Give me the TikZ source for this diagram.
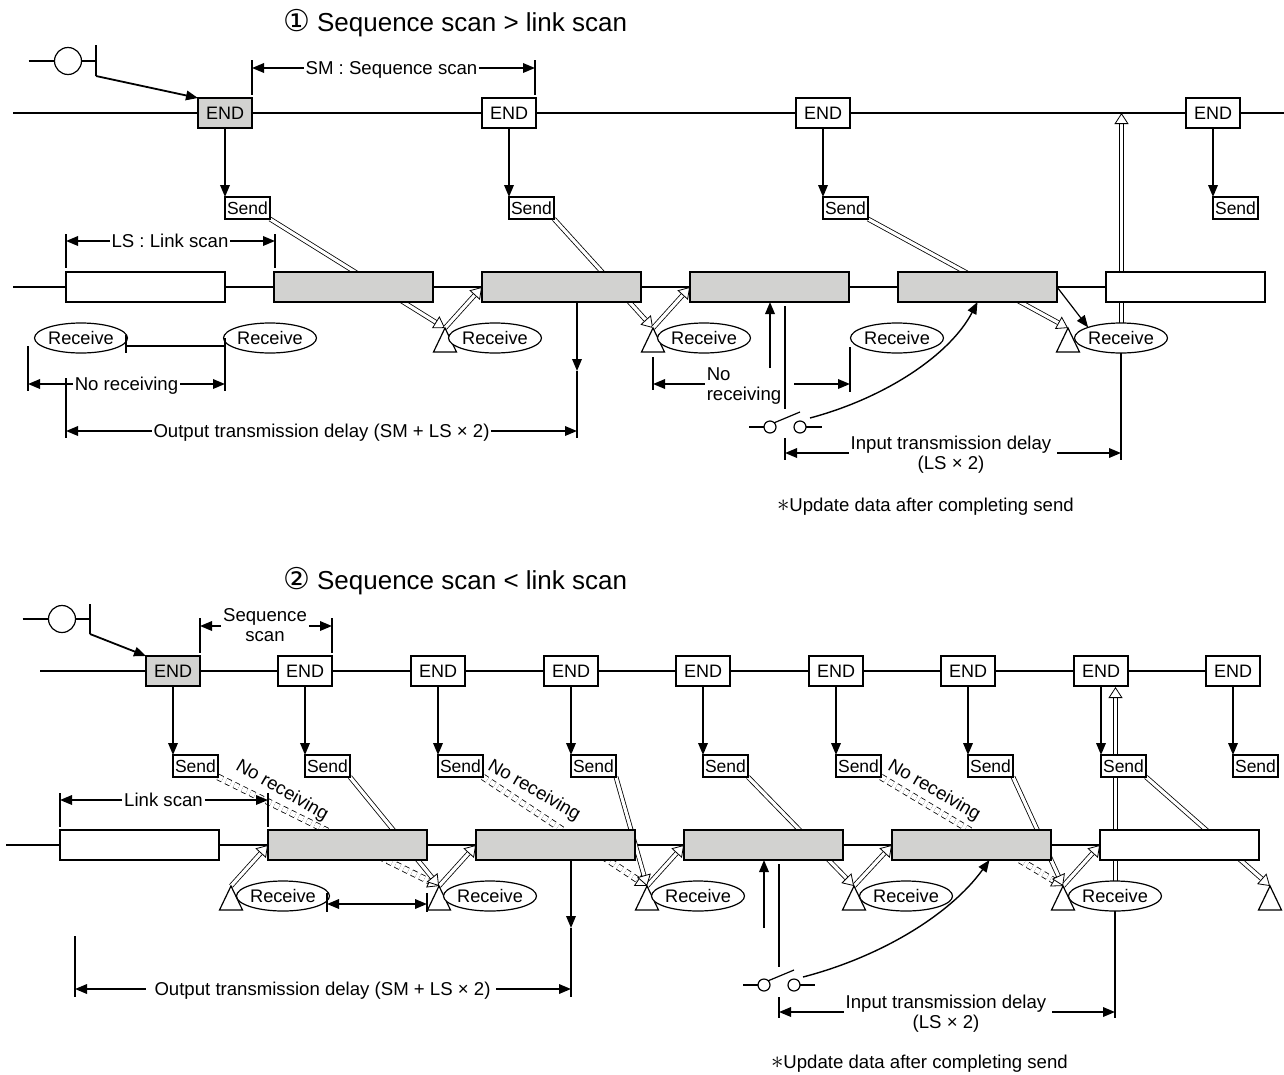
\documentclass[tikz,border=0pt]{standalone}
\usepackage{fontspec}
\setmainfont{Liberation Sans}
\newfontfamily\symfont{DejaVu Sans}
\usepackage{tikz}
\usetikzlibrary{arrows.meta,shapes.geometric,backgrounds}
\definecolor{scangray}{RGB}{210, 210, 208}
\tikzset{
    every node/.style={font=\fontsize{18.6}{20}\selectfont, inner sep=2pt, outer sep=0pt, text depth=0pt},
    wire/.style={line width=1.8pt},
    boxline/.style={draw, line width=1.4pt, fill=white},
    arrowline/.style={wire, -{Triangle[length=12pt,width=9.5pt]}},
    dimline/.style={wire, {Triangle[length=12pt,width=9.5pt]}-{Triangle[length=12pt,width=9.5pt]}},
    hollow/.style={line width=0.8pt, double=white, double distance=3.2pt, -{Triangle[open,fill=white,length=11pt,width=14pt,line width=0.8pt]}},
    hollowdash/.style={hollow, double distance=5pt, dash pattern=on 5pt off 4pt},
    endbox/.style={boxline, font=\fontsize{18}{20}\selectfont, minimum width=54pt, minimum height=30pt},
    endgray/.style={endbox, fill=scangray},
    sendbox/.style={boxline, font=\fontsize{17.5}{20}\selectfont, anchor=west, minimum width=45pt, minimum height=22pt, inner sep=0pt},
    linkbox/.style={boxline, anchor=west, minimum width=159pt, minimum height=30pt},
    linkgray/.style={linkbox, fill=scangray},
    recvnode/.style={boxline, font=\fontsize{18.2}{20}\selectfont, line width=1.2pt, ellipse, minimum width=90pt, minimum height=30pt, inner sep=0pt},
    tribase/.style={boxline, line width=1.2pt, isosceles triangle, isosceles triangle stretches, shape border rotate=90, anchor=lower side, minimum width=23pt, minimum height=24pt, inner sep=0pt},
    contact/.style={boxline, line width=1.2pt, circle, minimum size=12pt, inner sep=0pt},
    coil/.style={boxline, line width=1.2pt, circle, minimum size=27pt, inner sep=0pt},
    titletext/.style={font=\fontsize{26}{28}\selectfont},
    slanted/.style={rotate=-30}
}
\newcommand{\notemark}{{\fontsize{26}{26}\selectfont$\ast$}}

\begin{document}
\begin{tikzpicture}[x=1pt, y=-1pt]
    \useasboundingbox (0,0) rectangle (1284,1074);

    % Sequence scan > link scan
    \node[titletext, anchor=west] (titleA) at (281,20) {{\symfont\fontsize{30}{30}\selectfont ①} Sequence scan > link scan};

    % Scan row with END and Send boxes
    \coordinate (scanA) at (13,113);
    \coordinate (scanAend) at (1284,113);
    \node[endgray] (endA1) at (225,113) {END};
    \node[endbox] (endA2) at (509,113) {END};
    \node[endbox] (endA3) at (823,113) {END};
    \node[endbox] (endA4) at (1213,113) {END};
    \node[sendbox] (sendA1) at (225,208) {Send};
    \node[sendbox] (sendA2) at (509,208) {Send};
    \node[sendbox] (sendA3) at (823,208) {Send};
    \node[sendbox] (sendA4) at (1213,208) {Send};

    % Link row
    \coordinate (rowA) at (13,287);
    \node[linkbox] (linkA1) at (66,287) {};
    \node[linkgray] (linkA2) at (274,287) {};
    \node[linkgray] (linkA3) at (482,287) {};
    \node[linkgray] (linkA4) at (690,287) {};
    \node[linkgray] (linkA5) at (898,287) {};
    \node[linkbox] (linkA6) at (1106,287) {};

    % Triangles and Receive marks
    \node[tribase] (triA1) at (445,352) {};
    \node[tribase] (triA2) at (653,352) {};
    \node[tribase] (triA3) at (1068,352) {};
    \node[recvnode] (recvA1) at (81,338) {Receive};
    \node[recvnode] (recvA2) at (270,338) {Receive};
    \node[recvnode] (recvA3) at (495,338) {Receive};
    \node[recvnode] (recvA4) at (704,338) {Receive};
    \node[recvnode] (recvA5) at (897,338) {Receive};
    \node[recvnode] (recvA6) at (1121,338) {Receive};

    % Coil at the upper left
    \node[coil] (coilA) at (68,61) {};
    \coordinate (barA) at (96,61);
    \draw[wire] ([xshift=-26pt]coilA.west) -- (coilA.west);
    \draw[wire] (coilA.east) -- (barA);
    \draw[wire] ([yshift=16pt]barA) -- ([yshift=-15pt]barA);
    \draw[arrowline] ([yshift=-15pt]barA) -- (endA1.north west);

    % Dimension labels
    \coordinate (smLeft) at (252,68);
    \coordinate (smRight) at (535,68);
    \node (smLabel) at (391.5,68) {SM : Sequence scan};
    \draw[arrowline] (smLabel) -- (smLeft);
    \draw[arrowline] (smLabel) -- (smRight);
    \draw[wire] ([yshift=8pt]smLeft) -- ([yshift=-27pt]smLeft);
    \draw[wire] ([yshift=8pt]smRight) -- ([yshift=-27pt]smRight);

    \coordinate (lsLeft) at (66,241);
    \coordinate (lsRight) at (275,241);
    \node (lsLabel) at (170,241) {LS : Link scan};
    \draw[arrowline] (lsLabel) -- (lsLeft);
    \draw[arrowline] (lsLabel) -- (lsRight);
    \draw[wire] ([yshift=7pt]lsLeft) -- ([yshift=-27pt]lsLeft);
    \draw[wire] ([yshift=7pt]lsRight) -- ([yshift=-27pt]lsRight);

    % No receiving, left
    \coordinate (noLeft) at (28,384);
    \coordinate (noRight) at (225,384);
    \node (noLabel) at (126.5,384) {No receiving};
    \draw[arrowline] (noLabel) -- (noLeft);
    \draw[arrowline] (noLabel) -- (noRight);
    \draw[wire] ([yshift=38pt]noLeft) -- ([yshift=-7pt]noLeft);
    \draw[wire] (noRight |- recvA2.west) -- ([yshift=-7pt]noRight);
    \draw[wire] (126,335) -- (126,353);
    \draw[wire] (126,346) -- (225,346);

    % Output transmission delay
    \coordinate (outLeft) at (66,431);
    \coordinate (outRight) at (577,431);
    \coordinate (outMid) at (577,371);
    \node (outLabel) at (321.5,431) {Output transmission delay (SM + LS × 2)};
    \draw[arrowline] (outLabel) -- (outLeft);
    \draw[arrowline] (outLabel) -- (outRight);
    \draw[wire] ([yshift=53pt]outLeft) -- ([yshift=-7pt]outLeft);
    \draw[arrowline] (outMid |- linkA3.south) -- (outMid);
    \draw[wire] (outMid) -- ([yshift=-7pt]outRight);

    % No receiving, middle
    \coordinate (midLeft) at (653,384);
    \coordinate (midRight) at (850,384);
    \node[align=left] (midLabel) at (744,384) {No\\receiving};
    \draw[arrowline] (midLabel) -- (midLeft);
    \draw[arrowline] ([xshift=11pt]midLabel.east) -- (midRight);
    \draw[wire] ([yshift=27pt]midLeft) -- ([yshift=-6pt]midLeft);
    \draw[wire] ([yshift=37pt]midRight) -- ([yshift=-8pt]midRight);

    % Switch and input transmission delay
    \node[contact] (swA1) at (770,427) {};
    \node[contact] (swA2) at (800,427) {};
    \draw[wire] ([xshift=-15pt]swA1.west) -- (swA1.west);
    \draw[wire] (swA2.east) -- ([xshift=16pt]swA2.east);
    \draw[line width=1.2pt] (swA1.north east) -- ([shift={(0pt,15pt)}]swA2.center);
    \coordinate (upA) at (770,368);
    \draw[arrowline] (upA) -- (upA |- linkA4.south);
    \draw[wire] (785,306) -- (785,409);
    \draw[arrowline, line width=1.4pt] ([shift={(10pt,9pt)}]swA2.center) .. controls (885,398) and (950,355) .. (linkA5.south);
    \coordinate (inLeft) at (785,453);
    \coordinate (inRight) at (1121,453);
    \node[align=center] (inLabel) at (951,453) {Input transmission delay\\(LS × 2)};
    \draw[arrowline] (inLabel) -- (inLeft);
    \draw[arrowline] ([xshift=4pt]inLabel.east) -- (inRight);
    \draw[wire] ([yshift=15pt]inLeft) -- ([yshift=-7pt]inLeft);
    \draw[wire] (recvA6.south) -- ([yshift=-7pt]inRight);
    \node[anchor=west] (noteA) at (775,505) {\notemark Update data after completing send};

    % Lines behind the boxes
    \begin{pgfonlayer}{background}
        \draw[wire] (scanA) -- (scanAend);
        \draw[wire] (rowA) -- (linkA6.west);
        \draw[arrowline] (endA1.south) -- (sendA1.north west);
        \draw[arrowline] (endA2.south) -- (sendA2.north west);
        \draw[arrowline] (endA3.south) -- (sendA3.north west);
        \draw[arrowline] (endA4.south) -- (sendA4.north west);
        \draw[hollow] (sendA1.south east) -- (triA1.apex);
        \draw[hollow] (sendA2.south east) -- (triA2.apex);
        \draw[hollow] (sendA3.south east) -- (triA3.apex);
        \draw[hollow] (triA1.apex) -- (linkA3.west);
        \draw[hollow] (triA2.apex) -- (linkA4.west);
        \coordinate (topA) at (1121.5,113);
        \draw[hollow] (topA |- recvA6.north) -- (topA);
        \draw[arrowline, line width=1.2pt] (linkA5.east) -- (recvA6.north west);
    \end{pgfonlayer}

    % Sequence scan < link scan
    \node[titletext, anchor=west] (titleB) at (281,578) {{\symfont\fontsize{30}{30}\selectfont ②} Sequence scan < link scan};

    % Scan row with END and Send boxes
    \coordinate (scanB) at (40,671);
    \node[endgray] (endB1) at (173,671) {END};
    \node[endbox] (endB2) at (305,671) {END};
    \node[endbox] (endB3) at (438,671) {END};
    \node[endbox] (endB4) at (571,671) {END};
    \node[endbox] (endB5) at (703,671) {END};
    \node[endbox] (endB6) at (836,671) {END};
    \node[endbox] (endB7) at (968,671) {END};
    \node[endbox] (endB8) at (1101,671) {END};
    \node[endbox] (endB9) at (1233,671) {END};
    \node[sendbox] (sendB1) at (173,766) {Send};
    \node[sendbox] (sendB2) at (305,766) {Send};
    \node[sendbox] (sendB3) at (438,766) {Send};
    \node[sendbox] (sendB4) at (571,766) {Send};
    \node[sendbox] (sendB5) at (703,766) {Send};
    \node[sendbox] (sendB6) at (836,766) {Send};
    \node[sendbox] (sendB7) at (968,766) {Send};
    \node[sendbox] (sendB8) at (1101,766) {Send};
    \node[sendbox] (sendB9) at (1233,766) {Send};

    % Link row
    \coordinate (rowB) at (6,845);
    \node[linkbox] (linkB1) at (60,845) {};
    \node[linkgray] (linkB2) at (268,845) {};
    \node[linkgray] (linkB3) at (476,845) {};
    \node[linkgray] (linkB4) at (684,845) {};
    \node[linkgray] (linkB5) at (892,845) {};
    \node[linkbox] (linkB6) at (1100,845) {};

    % Triangles and Receive marks
    \node[tribase] (triB1) at (231,910) {};
    \node[tribase] (triB2) at (439,910) {};
    \node[tribase] (triB3) at (647,910) {};
    \node[tribase] (triB4) at (854,910) {};
    \node[tribase] (triB5) at (1063,910) {};
    \node[tribase] (triB6) at (1270,910) {};
    \node[recvnode] (recvB1) at (283,896) {Receive};
    \node[recvnode] (recvB2) at (490,896) {Receive};
    \node[recvnode] (recvB3) at (698,896) {Receive};
    \node[recvnode] (recvB4) at (906,896) {Receive};
    \node[recvnode] (recvB5) at (1115,896) {Receive};

    % Coil at the upper left
    \node[coil] (coilB) at (62,619) {};
    \coordinate (barB) at (90,619);
    \draw[wire] ([xshift=-26pt]coilB.west) -- (coilB.west);
    \draw[wire] (coilB.east) -- (barB);
    \draw[wire] ([yshift=15pt]barB) -- ([yshift=-15pt]barB);
    \draw[arrowline] ([yshift=-15pt]barB) -- (endB1.north west);

    % Dimension labels
    \coordinate (seqLeft) at (200,626);
    \coordinate (seqRight) at (332,626);
    \node[align=center] (seqLabel) at (265,625) {Sequence\\scan};
    \draw[arrowline] (seqLabel.west |- seqLeft) -- (seqLeft);
    \draw[arrowline] (seqLabel.east |- seqRight) -- (seqRight);
    \draw[wire] ([yshift=8pt]seqLeft) -- ([yshift=-27pt]seqLeft);
    \draw[wire] ([yshift=8pt]seqRight) -- ([yshift=-27pt]seqRight);

    \coordinate (linkLeft) at (60,800);
    \coordinate (linkRight) at (268,800);
    \node (linkLabel) at (163.5,800) {Link scan};
    \draw[arrowline] (linkLabel) -- (linkLeft);
    \draw[arrowline] (linkLabel) -- (linkRight);
    \draw[wire] ([yshift=7pt]linkLeft) -- ([yshift=-27pt]linkLeft);
    \draw[wire] ([yshift=7pt]linkRight) -- ([yshift=-27pt]linkRight);

    % No receiving gap between Receive marks
    \coordinate (gapLeft) at (327,904);
    \coordinate (gapRight) at (427,904);
    \draw[dimline] (gapLeft) -- (gapRight);
    \draw[wire] ([yshift=11pt]gapLeft) -- ([yshift=-8pt]gapLeft);
    \draw[wire] ([yshift=11pt]gapRight) -- ([yshift=-8pt]gapRight);

    % Slanted labels
    \node[slanted] (skipB1) at (283,789) {No receiving};
    \node[slanted] (skipB3) at (535,789) {No receiving};
    \node[slanted] (skipB6) at (935,789) {No receiving};

    % Output transmission delay
    \coordinate (outBLeft) at (75,989);
    \coordinate (outBRight) at (571,989);
    \coordinate (outBMid) at (571,928);
    \node (outBLabel) at (322.5,989) {Output transmission delay (SM + LS × 2)};
    \draw[arrowline] ([xshift=-7pt]outBLabel.west) -- (outBLeft);
    \draw[arrowline] ([xshift=4pt]outBLabel.east) -- (outBRight);
    \draw[wire] ([yshift=53pt]outBLeft) -- ([yshift=-8pt]outBLeft);
    \draw[arrowline] (outBMid |- linkB3.south) -- (outBMid);
    \draw[wire] (outBMid) -- ([yshift=-8pt]outBRight);

    % Switch and input transmission delay
    \node[contact] (swB1) at (764,985) {};
    \node[contact] (swB2) at (794,985) {};
    \draw[wire] ([xshift=-15pt]swB1.west) -- (swB1.west);
    \draw[wire] (swB2.east) -- ([xshift=15pt]swB2.east);
    \draw[line width=1.2pt] (swB1.north east) -- ([shift={(0pt,15pt)}]swB2.center);
    \coordinate (upB) at (764,928);
    \draw[arrowline] (upB) -- (upB |- linkB4.south);
    \draw[wire] (779,864) -- (779,967);
    \draw[arrowline, line width=1.4pt] ([shift={(9pt,8pt)}]swB2.center) .. controls (880,957) and (950,915) .. ([xshift=18pt]linkB5.south);
    \coordinate (inBLeft) at (779,1012);
    \coordinate (inBRight) at (1115,1012);
    \node[align=center] (inBLabel) at (946,1012) {Input transmission delay\\(LS × 2)};
    \draw[arrowline] (inBLabel) -- (inBLeft);
    \draw[arrowline] ([xshift=4pt]inBLabel.east) -- (inBRight);
    \draw[wire] ([yshift=15pt]inBLeft) -- ([yshift=-6pt]inBLeft);
    \draw[wire] (recvB5.south) -- ([yshift=-6pt]inBRight);
    \node[anchor=west] (noteB) at (769,1062) {\notemark Update data after completing send};

    % Lines behind the boxes
    \begin{pgfonlayer}{background}
        \draw[wire] (scanB) -- (endB9.west);
        \draw[wire] (rowB) -- (linkB6.west);
        \draw[arrowline] (endB1.south) -- (sendB1.north west);
        \draw[arrowline] (endB2.south) -- (sendB2.north west);
        \draw[arrowline] (endB3.south) -- (sendB3.north west);
        \draw[arrowline] (endB4.south) -- (sendB4.north west);
        \draw[arrowline] (endB5.south) -- (sendB5.north west);
        \draw[arrowline] (endB6.south) -- (sendB6.north west);
        \draw[arrowline] (endB7.south) -- (sendB7.north west);
        \draw[arrowline] (endB8.south) -- (sendB8.north west);
        \draw[arrowline] (endB9.south) -- (sendB9.north west);
        \draw[hollow] (triB1.apex) -- (linkB2.west);
        \draw[hollow] (triB2.apex) -- (linkB3.west);
        \draw[hollow] (triB3.apex) -- (linkB4.west);
        \draw[hollow] (triB4.apex) -- (linkB5.west);
        \draw[hollow] (triB5.apex) -- (linkB6.west);
        \draw[hollowdash] (sendB1.south east) -- (triB2.apex);
        \draw[hollowdash] (sendB3.south east) -- (triB3.apex);
        \draw[hollowdash] (sendB6.south east) -- (triB5.apex);
        \draw[hollow] (sendB2.south east) -- (triB2.apex);
        \draw[hollow] (sendB4.south east) -- (triB3.apex);
        \draw[hollow] (sendB5.south east) -- (triB4.apex);
        \draw[hollow] (sendB7.south east) -- (triB5.apex);
        \draw[hollow] (sendB8.south east) -- (triB6.apex);
        \coordinate (topB) at (1115.5,687);
        \draw[hollow] (topB |- recvB5.north) -- (topB);
    \end{pgfonlayer}
\end{tikzpicture}
\end{document}
